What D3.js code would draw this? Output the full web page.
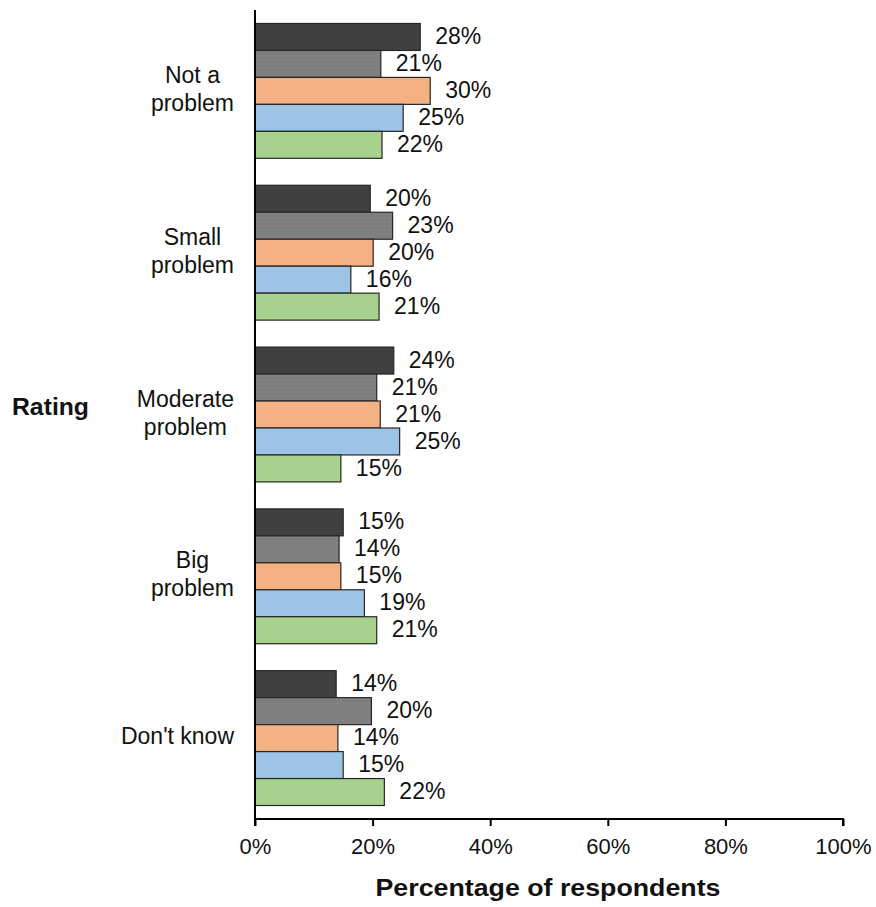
<!DOCTYPE html>
<html><head><meta charset="utf-8">
<script src="https://cdn.jsdelivr.net/npm/d3@7"></script>
<style>
html,body{margin:0;padding:0;background:#fff;}
svg{display:block;font-family:"Liberation Sans",Arial,sans-serif;}
</style></head>
<body><svg id="chart" width="876" height="907"></svg>
<script>
const categories = [["Not a","problem"],["Small","problem"],["Moderate","problem"],["Big","problem"],["Don't know"]];
const seriesNames = ["Series 1","Series 2","Series 3","Series 4","Series 5"];
const seriesColors = ["#404040","#7f7f7f","#f4b183","#9dc3e6","#a9d18e"];
// values[category][series], percent
const s1 = [28.1, 19.6, 23.6, 15.0, 13.8];
const s2 = [21.4, 23.4, 20.7, 14.3, 19.8];
const s3 = [29.8, 20.1, 21.3, 14.6, 14.1];
const s4 = [25.2, 16.3, 24.6, 18.6, 15.0];
const s5 = [21.6, 21.1, 14.6, 20.7, 22.0];
const xTicks = [0,20,40,60,80,100];
const xTitle = "Percentage of respondents";
const yTitle = "Rating";

const series = [s1,s2,s3,s4,s5];
const svg = d3.select("#chart");
const x = d3.scaleLinear().domain([0,100]).range([255,843]);
const y = d3.scaleBand().domain(d3.range(categories.length)).range([10,819]).paddingInner(1/6).paddingOuter(1/12);
const ys = d3.scaleBand().domain(d3.range(series.length)).range([0,y.bandwidth()]);

const defs = svg.append("defs");
const pat = defs.append("pattern").attr("id","tex").attr("patternUnits","userSpaceOnUse").attr("width",4).attr("height",4);
pat.append("rect").attr("width",4).attr("height",4).attr("fill","#7f7f7f");
pat.append("rect").attr("x",0).attr("y",0).attr("width",1).attr("height",1).attr("fill","#878787");
pat.append("rect").attr("x",2).attr("y",2).attr("width",1).attr("height",1).attr("fill","#777");

const fmt = d => d3.format(".0f")(d) + "%";

categories.forEach((cat, ci) => {
  const g = svg.append("g").attr("transform", `translate(0,${y(ci)})`);
  series.forEach((vals, si) => {
    g.append("rect")
      .attr("x", x(0)).attr("y", ys(si))
      .attr("width", x(vals[ci]) - x(0)).attr("height", ys.bandwidth())
      .attr("fill", si === 1 ? "url(#tex)" : seriesColors[si])
      .attr("stroke", "#262626").attr("stroke-width", 1.2);
    g.append("text")
      .attr("x", x(vals[ci]) + 15).attr("y", ys(si) + ys.bandwidth()/2 + 1)
      .attr("dominant-baseline","middle")
      .attr("font-size", 23).attr("fill","#111")
      .text(fmt(vals[ci]));
  });
});

// category labels: block right-aligned at 234, lines centered in block
categories.forEach((lines, ci) => {
  const cy = y(ci) + y.bandwidth()/2;
  const t = svg.append("g");
  const texts = lines.map((ln, li) => t.append("text")
    .attr("font-size", 23).attr("fill","#111")
    .attr("text-anchor","middle").attr("dominant-baseline","middle")
    .attr("y", cy + (li - (lines.length-1)/2) * 28)
    .text(ln));
  const maxW = d3.max(texts, tx => tx.node().getComputedTextLength());
  texts.forEach(tx => tx.attr("x", 234 - maxW/2));
});

// x axis
const xa = svg.append("g").attr("transform","translate(0,819)")
  .call(d3.axisBottom(x).tickValues(xTicks).tickFormat(d => d + "%").tickSize(7).tickPadding(12));
xa.select(".domain").attr("stroke","#000").attr("stroke-width",2).attr("d", `M${x(0)},7V0H${x(100)}V7`);
xa.selectAll(".tick line").attr("stroke","#000").attr("stroke-width",2);
xa.selectAll(".tick text").attr("font-size",22).attr("fill","#111").attr("font-family","Liberation Sans, Arial, sans-serif");

// y axis line
svg.append("line").attr("x1",x(0)).attr("x2",x(0)).attr("y1",10).attr("y2",820).attr("stroke","#000").attr("stroke-width",2);

svg.append("text").attr("x",548).attr("y",896).attr("text-anchor","middle")
  .attr("font-size",23).attr("font-weight","bold").attr("fill","#111")
  .attr("textLength",345).attr("lengthAdjust","spacingAndGlyphs").text(xTitle);
svg.append("text").attr("x",12).attr("y",409).attr("dominant-baseline","middle")
  .attr("font-size",23).attr("font-weight","bold").attr("fill","#111")
  .attr("textLength",77).attr("lengthAdjust","spacingAndGlyphs").text(yTitle);
</script></body></html>
